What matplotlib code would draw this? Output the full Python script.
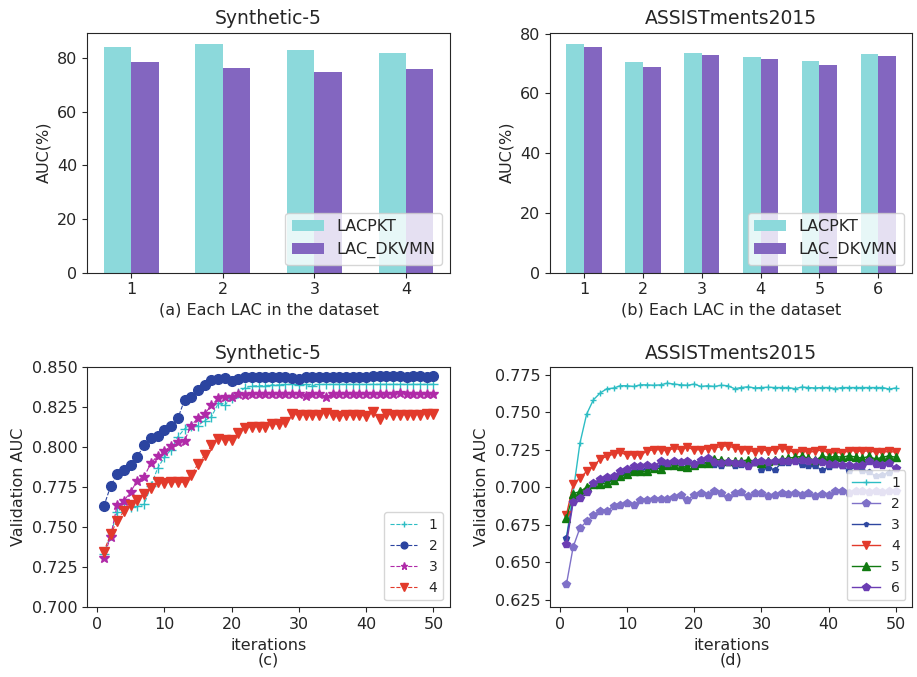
import matplotlib
matplotlib.use("Agg")
import matplotlib.pyplot as plt
import numpy as np

# ---------------- data ----------------
syn_lac = [1, 2, 3, 4]
syn_lacpkt = [84.0, 85.1, 82.9, 81.7]
syn_dkvmn = [78.4, 76.2, 74.7, 75.8]

ast_lac = [1, 2, 3, 4, 5, 6]
ast_lacpkt = [76.5, 70.5, 73.5, 72.2, 70.8, 73.1]
ast_dkvmn = [75.5, 68.8, 72.8, 71.5, 69.5, 72.5]

iters = list(range(1, 51))

syn_1 = [0.733, 0.745, 0.7598, 0.7629, 0.7629, 0.7630, 0.7644, 0.7755, 0.7870, 0.7937,
         0.7985, 0.8065, 0.8115, 0.8136, 0.8136, 0.8167, 0.8190, 0.8274, 0.8263, 0.8310,
         0.8341, 0.8372, 0.8382, 0.8385, 0.8385, 0.8390, 0.8390, 0.8393, 0.8393, 0.8390,
         0.8393, 0.8385, 0.8393, 0.8393, 0.8393, 0.8393, 0.8393, 0.8393, 0.8393, 0.8393,
         0.8393, 0.8393, 0.8393, 0.8393, 0.8393, 0.8393, 0.8393, 0.8393, 0.8393, 0.8393]
syn_2 = [0.7630, 0.7755, 0.7835, 0.7858, 0.7887, 0.7941, 0.8017, 0.8061, 0.8071, 0.8111,
         0.8130, 0.8180, 0.8295, 0.8316, 0.8358, 0.8391, 0.8420, 0.8427, 0.8435, 0.8412,
         0.8427, 0.8441, 0.8441, 0.8441, 0.8438, 0.8441, 0.8438, 0.8438, 0.8432, 0.8425,
         0.8441, 0.8441, 0.8441, 0.8441, 0.8441, 0.8438, 0.8441, 0.8441, 0.8441, 0.8441,
         0.8443, 0.8443, 0.8443, 0.8443, 0.8445, 0.8441, 0.8445, 0.8445, 0.8441, 0.8446]
syn_3 = [0.7311, 0.7440, 0.7640, 0.7665, 0.7723, 0.7792, 0.7817, 0.7900, 0.7947, 0.7979,
         0.8006, 0.8031, 0.8042, 0.8136, 0.8184, 0.8209, 0.8263, 0.8305, 0.8316, 0.8316,
         0.8335, 0.8324, 0.8335, 0.8335, 0.8335, 0.8335, 0.8335, 0.8335, 0.8335, 0.8330,
         0.8320, 0.8335, 0.8335, 0.8313, 0.8335, 0.8335, 0.8335, 0.8335, 0.8335, 0.8335,
         0.8335, 0.8335, 0.8335, 0.8335, 0.8338, 0.8335, 0.8335, 0.8335, 0.8330, 0.8330]
syn_4 = [0.7346, 0.7456, 0.7541, 0.7602, 0.7640, 0.7671, 0.7707, 0.7748, 0.7782, 0.7776,
         0.7786, 0.7782, 0.7782, 0.7828, 0.7895, 0.7949, 0.8012, 0.8054, 0.8043, 0.8048,
         0.8090, 0.8121, 0.8128, 0.8128, 0.8125, 0.8146, 0.8143, 0.8159, 0.8205, 0.8203,
         0.8203, 0.8203, 0.8203, 0.8216, 0.8201, 0.8194, 0.8201, 0.8201, 0.8201, 0.8194,
         0.8218, 0.8176, 0.8205, 0.8203, 0.8203, 0.8203, 0.8203, 0.8203, 0.8205, 0.8207]

ast_1 = [0.6665, 0.6970, 0.7294, 0.7488, 0.7583, 0.7628, 0.7657, 0.7661, 0.7677, 0.7677,
         0.7672, 0.7683, 0.7683, 0.7680, 0.7683, 0.7694, 0.7688, 0.7683, 0.7680, 0.7688,
         0.7672, 0.7677, 0.7672, 0.7680, 0.7677, 0.7657, 0.7665, 0.7670, 0.7662, 0.7665,
         0.7667, 0.7665, 0.7665, 0.7665, 0.7657, 0.7668, 0.7665, 0.7662, 0.7665, 0.7665,
         0.7658, 0.7665, 0.7665, 0.7665, 0.7665, 0.7665, 0.7665, 0.7665, 0.7655, 0.7662]
ast_2 = [0.6355, 0.6603, 0.6728, 0.6772, 0.6817, 0.6843, 0.6839, 0.6877, 0.6883, 0.6894,
         0.6883, 0.6917, 0.6917, 0.6923, 0.6923, 0.6923, 0.6932, 0.6950, 0.6917, 0.6950,
         0.6961, 0.6950, 0.6972, 0.6961, 0.6932, 0.6961, 0.6967, 0.6939, 0.6961, 0.6961,
         0.6939, 0.6950, 0.6961, 0.6958, 0.6961, 0.6950, 0.6961, 0.6945, 0.6958, 0.6950,
         0.6972, 0.6975, 0.6965, 0.6972, 0.6972, 0.6970, 0.6972, 0.6970, 0.6972, 0.6972]
ast_3 = [0.6661, 0.6917, 0.6950, 0.6983, 0.7023, 0.7032, 0.7045, 0.7055, 0.7080, 0.7095,
         0.7110, 0.7115, 0.7120, 0.7130, 0.7140, 0.7150, 0.7155, 0.7160, 0.7165, 0.7160,
         0.7165, 0.7161, 0.7150, 0.7139, 0.7160, 0.7139, 0.7150, 0.7139, 0.7161, 0.7117,
         0.7128, 0.7117, 0.7161, 0.7165, 0.7172, 0.7150, 0.7139, 0.7139, 0.7117, 0.7133,
         0.7150, 0.7139, 0.7111, 0.7139, 0.7106, 0.7100, 0.7077, 0.7083, 0.7097, 0.7121]
ast_4 = [0.6817, 0.7021, 0.7061, 0.7106, 0.7139, 0.7188, 0.7206, 0.7221, 0.7234, 0.7213,
         0.7217, 0.7213, 0.7243, 0.7250, 0.7250, 0.7243, 0.7261, 0.7250, 0.7266, 0.7250,
         0.7250, 0.7257, 0.7261, 0.7272, 0.7277, 0.7261, 0.7250, 0.7250, 0.7234, 0.7250,
         0.7243, 0.7250, 0.7261, 0.7250, 0.7228, 0.7243, 0.7234, 0.7239, 0.7250, 0.7228,
         0.7234, 0.7228, 0.7243, 0.7243, 0.7239, 0.7243, 0.7234, 0.7234, 0.7239, 0.7234]
ast_5 = [0.6794, 0.6957, 0.6972, 0.7001, 0.7023, 0.7023, 0.7028, 0.7050, 0.7072, 0.7088,
         0.7106, 0.7106, 0.7106, 0.7128, 0.7123, 0.7150, 0.7150, 0.7139, 0.7135, 0.7150,
         0.7165, 0.7165, 0.7188, 0.7180, 0.7178, 0.7175, 0.7175, 0.7183, 0.7175, 0.7165,
         0.7178, 0.7180, 0.7188, 0.7194, 0.7200, 0.7206, 0.7194, 0.7180, 0.7206, 0.7200,
         0.7206, 0.7200, 0.7210, 0.7202, 0.7194, 0.7206, 0.7188, 0.7200, 0.7210, 0.7199]
ast_6 = [0.6623, 0.6901, 0.6928, 0.6968, 0.7028, 0.7055, 0.7066, 0.7077, 0.7106, 0.7121,
         0.7139, 0.7143, 0.7150, 0.7139, 0.7172, 0.7161, 0.7172, 0.7166, 0.7172, 0.7154,
         0.7183, 0.7194, 0.7166, 0.7161, 0.7168, 0.7161, 0.7161, 0.7139, 0.7168, 0.7172,
         0.7168, 0.7172, 0.7177, 0.7177, 0.7172, 0.7183, 0.7172, 0.7172, 0.7168, 0.7154,
         0.7156, 0.7150, 0.7150, 0.7143, 0.7150, 0.7172, 0.7156, 0.7150, 0.7161, 0.7128]

# ---------------- style ----------------
plt.rcParams['font.family'] = ['DejaVu Sans']
plt.rcParams['text.color'] = '#262626'
plt.rcParams['axes.labelcolor'] = '#262626'
plt.rcParams['xtick.color'] = '#262626'
plt.rcParams['ytick.color'] = '#262626'
plt.rcParams['axes.edgecolor'] = '#262626'

TICK = 11.5
LAB = 11.5
TIT = 13.5

c_pkt = '#8cd9db'
c_dkv = '#8366c0'

fig = plt.figure(figsize=(9.17, 6.77), dpi=100)
ax1 = fig.add_axes([0.0952, 0.5972, 0.3955, 0.3545])
ax2 = fig.add_axes([0.5998, 0.5972, 0.3951, 0.3545])
ax3 = fig.add_axes([0.0952, 0.1030, 0.3955, 0.3545])
ax4 = fig.add_axes([0.5998, 0.1030, 0.3951, 0.3545])

w = 0.3
for ax, lac, a, b, title, lab in [
        (ax1, syn_lac, syn_lacpkt, syn_dkvmn, 'Synthetic-5', '(a) Each LAC in the dataset'),
        (ax2, ast_lac, ast_lacpkt, ast_dkvmn, 'ASSISTments2015', '(b) Each LAC in the dataset')]:
    x = np.array(lac)
    ax.bar(x - w / 2, a, width=w, color=c_pkt, label='LACPKT')
    ax.bar(x + w / 2, b, width=w, color=c_dkv, label='LAC_DKVMN')
    ax.set_xticks(x)
    ax.set_xticklabels([str(v) for v in lac])
    ax.set_title(title, fontsize=TIT)
    ax.set_xlabel(lab, fontsize=LAB)
    ax.set_ylabel('AUC(%)', fontsize=LAB)
    ax.tick_params(labelsize=TICK)
    ax.legend(loc='lower right', fontsize=LAB)

# bottom-left
styles_l = [
    (syn_1, '1', '#2dbdc4', '+', 7),
    (syn_2, '2', '#2b44a0', 'o', 7),
    (syn_3, '3', '#b02aa8', '*', 7.5),
    (syn_4, '4', '#e23a2b', 'v', 7.5),
]
for ys, lab, col, mk, ms in styles_l:
    ax3.plot(iters, ys, linestyle='--', linewidth=0.8, color=col, marker=mk,
             markersize=ms, label=lab)
ax3.set_ylim(0.70, 0.85)
ax3.set_title('Synthetic-5', fontsize=TIT)
ax3.set_xlabel('iterations\n(c)', fontsize=LAB, linespacing=1.0)
ax3.set_ylabel('Validation AUC', fontsize=LAB)
ax3.tick_params(labelsize=TICK)
ax3.legend(loc='lower right', fontsize=10, handlelength=2.0, markerscale=0.7)

# bottom-right
styles_r = [
    (ast_1, '1', '#2dbdc4', '+', 5),
    (ast_2, '2', '#7f71c8', 'p', 6),
    (ast_3, '3', '#2e47a0', 'p', 4),
    (ast_4, '4', '#e23a2b', 'v', 6),
    (ast_5, '5', '#107a10', '^', 6),
    (ast_6, '6', '#6b3db3', 'p', 6),
]
for ys, lab, col, mk, ms in styles_r:
    ax4.plot(iters, ys, linestyle='-', linewidth=1.0, color=col, marker=mk,
             markersize=ms, label=lab)
ax4.set_ylim(0.62, 0.78)
ax4.set_title('ASSISTments2015', fontsize=TIT)
ax4.set_xlabel('iterations\n(d)', fontsize=LAB, linespacing=1.0)
ax4.set_ylabel('Validation AUC', fontsize=LAB)
ax4.tick_params(labelsize=TICK)
ax4.legend(loc='lower right', fontsize=10, handlelength=2.0, markerscale=0.9)

fig.savefig('out.png', dpi=100)
